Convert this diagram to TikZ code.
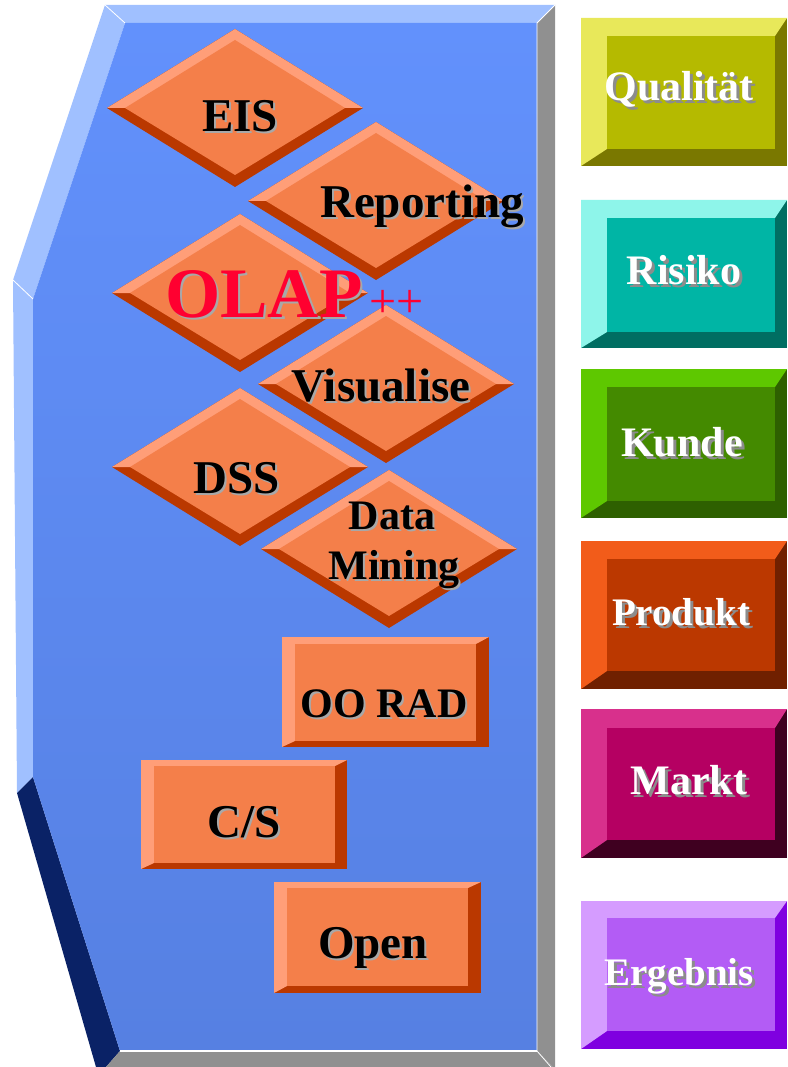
\documentclass[tikz,border=0pt]{standalone}
\usepackage{fontspec}
\setmainfont{Liberation Serif}
\definecolor{oF}{HTML}{F47F4A}
\definecolor{oL}{HTML}{FF9E78}
\definecolor{oD}{HTML}{BA3800}
\definecolor{qL}{HTML}{E8E85A}\definecolor{qF}{HTML}{B5BA00}\definecolor{qD}{HTML}{7A7800}
\definecolor{rL}{HTML}{8EF5EA}\definecolor{rF}{HTML}{00B5A5}\definecolor{rD}{HTML}{006E62}
\definecolor{kL}{HTML}{5EC800}\definecolor{kF}{HTML}{448A00}\definecolor{kD}{HTML}{2E6000}
\definecolor{pL}{HTML}{F25C1A}\definecolor{pF}{HTML}{BB3800}\definecolor{pD}{HTML}{702000}
\definecolor{mL}{HTML}{D8308C}\definecolor{mF}{HTML}{B50062}\definecolor{mD}{HTML}{3F0020}
\definecolor{eL}{HTML}{D59CFF}\definecolor{eF}{HTML}{B35CF5}\definecolor{eD}{HTML}{7F00E0}
\definecolor{panL}{HTML}{A0C0FF}
\definecolor{panN}{HTML}{0A2266}
\definecolor{panG}{HTML}{909090}
\definecolor{panTop}{HTML}{6291FC}
\definecolor{panBot}{HTML}{5680E2}
\definecolor{olapred}{HTML}{FF0030}
\definecolor{lshadow}{HTML}{A8A8A8}
\definecolor{rshadow}{HTML}{8C8C8C}
% text with a drop shadow, in one box: offset, shadow colour, text
\newcommand\shadowed[3]{%
  \makebox[0pt][l]{\hspace*{#1}\raisebox{-#1}{\textcolor{#2}{#3}}}#3}
% bevelled diamond: cx cy
\newcommand\bdia[2]{%
  \fill[oD] (#1-128,#2) -- (#1,#2-79) -- (#1+128,#2) -- (#1,#2+79) -- cycle;
  \fill[oL] (#1-128,#2) -- (#1,#2-79) -- (#1+128,#2) -- cycle;
  \fill[oF] (#1-110,#2) -- (#1,#2-68) -- (#1+110,#2) -- (#1,#2+67) -- cycle;}
% bevelled rectangle: x0 y0 x1 y1 ix0 iy0 ix1 iy1 colourprefix
\newcommand\brect[9]{%
  \fill[#9D] (#1,#2) rectangle (#3,#4);
  \fill[#9L] (#1,#2) -- (#3,#2) -- (#7,#6) -- (#5,#6) -- (#5,#8) -- (#1,#4) -- cycle;
  \fill[#9F] (#5,#6) rectangle (#7,#8);}
% left label: name x y size text
\newcommand\ltxt[5]{%
  \node[lfg,font=\fontsize{#4}{#4}\selectfont\bfseries] (#1) at (#2,#3) {\shadowed{2pt}{lshadow}{#5}};}
% right label: name x y size text
\newcommand\rtxt[5]{%
  \node[rfg,font=\fontsize{#4}{#4}\selectfont\bfseries] (#1) at (#2,#3) {\shadowed{3pt}{rshadow}{#5}};}
\begin{document}
\begin{tikzpicture}[x=1pt,y=-1pt,
  lfg/.style={text=black,inner sep=0pt,anchor=base},
  rfg/.style={text=white,inner sep=0pt,anchor=base},
  hl/.style={white,line width=0.8pt}]
\useasboundingbox (0,0) rectangle (787,1067);
\fill[white] (0,0) rectangle (787,1067);
% ---------- big panel ----------
\fill[panL] (105,5) -- (555,5) -- (537,23) -- (125,23) -- cycle;
\fill[panL] (105,5) -- (125,23) -- (33,299) -- (13,280) -- cycle;
\fill[panL] (13,280) -- (33,299) -- (33,777) -- (17,793) -- cycle;
\fill[panN] (17,793) -- (33,777) -- (120,1051) -- (106,1067) -- (96,1067) -- cycle;
\fill[panG] (120,1051) -- (537,1051) -- (553,1067) -- (106,1067) -- cycle;
\fill[panG] (537,23) -- (555,5) -- (555,1067) -- (553,1067) -- (537,1051) -- cycle;
\shade[top color=panTop,bottom color=panBot]
  (125,23) -- (537,23) -- (537,1051) -- (120,1051) -- (33,777) -- (33,299) -- cycle;
\draw[hl] (105,5) -- (125,23);
\draw[hl] (13,280) -- (33,299);
\draw[hl] (555,5) -- (537,23) -- (537,1051);
\draw[white,line width=2pt] (120,1051) -- (537,1051);
\draw[hl] (537,1051) -- (551,1067);
% ---------- diamonds ----------
\bdia{235}{108}
\bdia{376}{201}
\bdia{240}{293}
\bdia{386}{384}
\bdia{240}{467}
\bdia{389}{549}
% ---------- orange boxes ----------
\brect{282}{637}{489}{747}{295}{644}{476}{741}{o}
\brect{141}{760}{347}{869}{154}{766}{335}{863}{o}
\brect{274}{882}{481}{993}{287}{888}{468}{986}{o}
% ---------- right boxes ----------
\brect{581}{18}{787}{166}{607}{36}{775}{149}{q}
\brect{581}{200}{787}{348}{607}{218}{775}{332}{r}
\brect{581}{369}{787}{518}{607}{387}{775}{501}{k}
\brect{581}{541}{787}{689}{607}{559}{775}{671}{p}
\brect{581}{709}{787}{858}{607}{728}{775}{840}{m}
\brect{581}{901}{787}{1049}{607}{918}{775}{1031}{e}
% ---------- left labels ----------
\ltxt{eis}{240}{132}{47}{EIS}
\ltxt{reporting}{422}{218}{47}{Reporting}
\node[text=olapred,inner sep=0pt,anchor=base west,font=\fontsize{71}{71}\selectfont\bfseries] (olap) at (165,317) {\shadowed{2.5pt}{lshadow}{OLAP}};
\node[text=olapred,inner sep=0pt,anchor=base west,font=\fontsize{48}{48}\selectfont] (plusplus) at (369,317) {++};
\ltxt{visualise}{381}{401}{47}{Visualise}
\ltxt{dss}{237}{493}{47}{DSS}
\ltxt{data}{392}{529}{42}{Data}
\ltxt{mining}{394}{579}{42}{Mining}
\ltxt{oorad}{384}{717}{42}{OO RAD}
\ltxt{cs}{244}{837}{47}{C/S}
\ltxt{open}{373}{958}{47}{Open}
% ---------- right labels ----------
\rtxt{qualitaet}{679}{101}{42}{Qualität}
\rtxt{risiko}{684}{284}{42}{Risiko}
\rtxt{kunde}{682}{456}{42}{Kunde}
\rtxt{produkt}{681}{625}{39}{Produkt}
\rtxt{markt}{689}{794}{42}{Markt}
\rtxt{ergebnis}{679}{985}{39}{Ergebnis}
\end{tikzpicture}
\end{document}
